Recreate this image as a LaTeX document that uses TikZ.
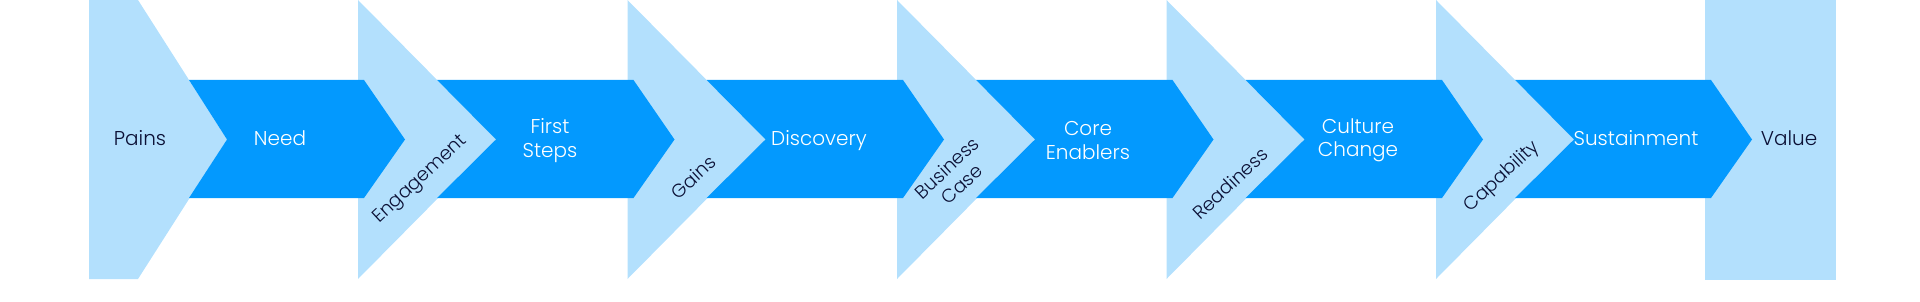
\documentclass[tikz,border=0pt]{standalone}
\usepackage{fontspec}
\setmainfont{Poppins}[UprightFont=* Light]
\definecolor{bandblue}{HTML}{0399FE}
\definecolor{lightblue}{HTML}{B3E0FD}
\definecolor{navy}{HTML}{0B1035}
\begin{document}
\begin{tikzpicture}[x=1pt,y=-1pt,
  lightshape/.style={fill=lightblue},
  bandshape/.style={fill=bandblue},
  bandtext/.style={text=white,align=center,font=\fontsize{20}{23.5}\selectfont,inner sep=0pt},
  shapetext/.style={text=navy,align=center,font=\fontsize{20}{23.5}\selectfont,inner sep=0pt},
  rottext/.style={text=navy,align=center,font=\fontsize{18.7}{22}\selectfont,inner sep=0pt,rotate=43}]
\useasboundingbox (0,0) rectangle (1920,302);
% light shapes
\fill[lightshape] (89,0) -- (138,0) -- (227,139.5) -- (138,279) -- (89,279) -- cycle;
\foreach \L in {358,627.5,897,1166.5,1436}{
  \fill[lightshape] (\L,0) -- (\L+138,139.5) -- (\L,279) -- cycle;
}
\fill[lightshape] (1705,0) rectangle (1836,280);
% bands
\fill[bandshape] (189,80) -- (364,80) -- (405,139.5) -- (364,198) -- (189,198) -- (227,139.5) -- cycle;
\foreach \L/\N in {358/627.5,627.5/897,897/1166.5,1166.5/1436}{
  \fill[bandshape] (\L+79.1,80) -- (\N+6,80) -- (\N+47,139.5) -- (\N+6,198) -- (\L+79.1,198) -- (\L+138,139.5) -- cycle;
}
\fill[bandshape] (1436+79.1,80) -- (1711,80) -- (1752,139.5) -- (1711,198) -- (1436+79.1,198) -- (1436+138,139.5) -- cycle;
% texts
\node[shapetext,anchor=base] (pains) at (140,146) {Pains};
\node[bandtext,anchor=base] (need) at (280,146) {Need};
\node[rottext] (engagement) at (420.5,180) {Engagement};
\node[bandtext] (firststeps) at (550,140.5) {First\\Steps};
\node[rottext] (gains) at (693,177) {Gains};
\node[bandtext,anchor=base] (discovery) at (819,146) {Discovery};
\node[rottext] (business) at (954,176) {Business\\Case};
\node[bandtext] (core) at (1088,140.5) {Core\\Enablers};
\node[rottext] (readiness) at (1230,183.5) {Readiness};
\node[bandtext] (culture) at (1358,140.5) {Culture\\Change};
\node[rottext] (capability) at (1502,177) {Capability};
\node[bandtext,anchor=base] (sustainment) at (1636,146) {Sustainment};
\node[shapetext,anchor=base] (value) at (1789,146) {Value};
\end{tikzpicture}
\end{document}
